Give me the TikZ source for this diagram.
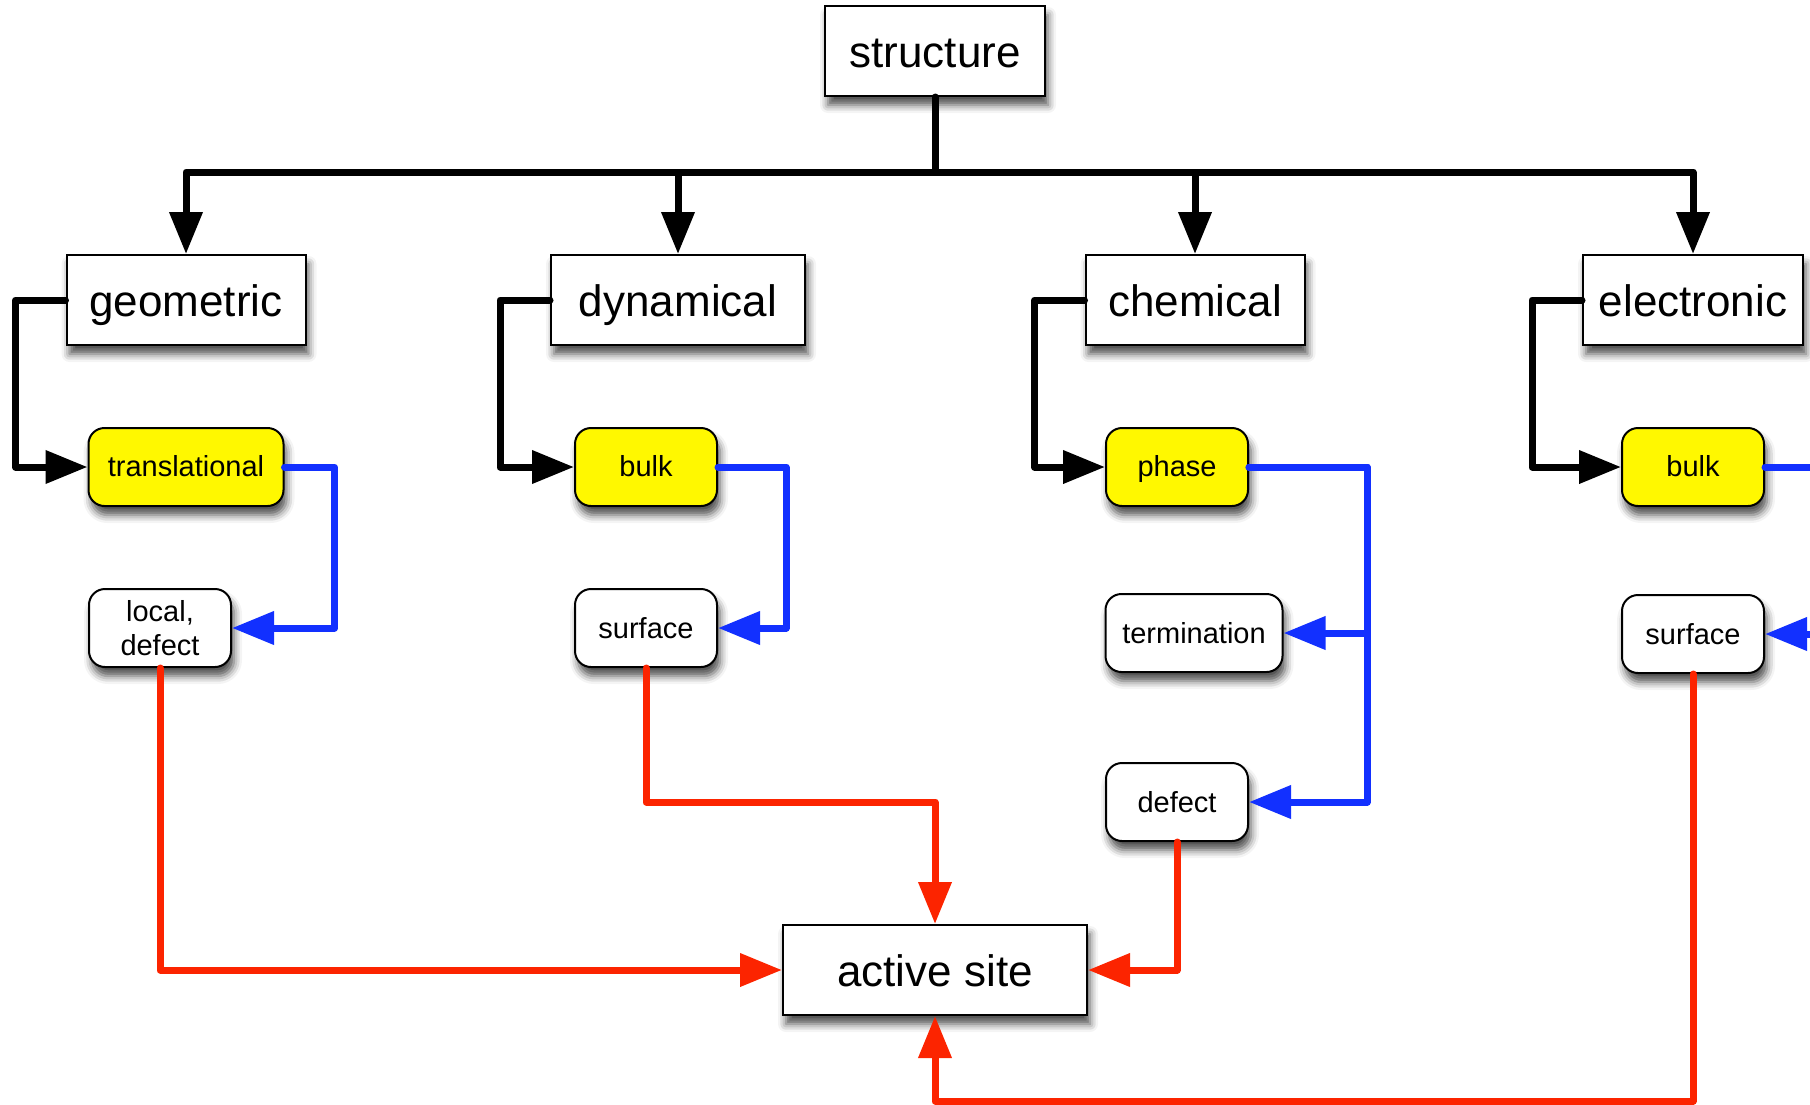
\documentclass[tikz,border=0pt]{standalone}
\usepackage{fontspec}
\setmainfont{Liberation Sans}
\usetikzlibrary{arrows.meta, shadows.blur}
\definecolor{boxyellow}{RGB}{255,248,0}
\definecolor{linkblue}{RGB}{18,48,255}
\definecolor{linkred}{RGB}{252,36,0}

\begin{document}
\begin{tikzpicture}[x=0.5pt, y=-0.5pt,
        shade/.style={blur shadow={shadow xshift=1.5pt, shadow yshift=-4.5pt, shadow blur radius=4pt, shadow opacity=70}},
        big/.style={draw, line width=1pt, fill=white, shade, font=\fontsize{22}{26}\selectfont, inner xsep=4pt, text height=19pt, text depth=2.5pt, minimum height=45pt},
        small/.style={draw, line width=1pt, fill=white, shade, rounded corners=8pt, font=\fontsize{14.5}{16.8}\selectfont, align=center, inner xsep=4pt, minimum width=71pt, minimum height=39pt},
        hot/.style={small, fill=boxyellow, text height=12pt, text depth=2.5pt},
        link/.style={line width=3.5pt, line join=round, line cap=round, -{Triangle[length=21pt, width=16pt]}},
        down/.style={link, black},
        side/.style={link, linkblue},
        tosite/.style={link, linkred}]
    \useasboundingbox (0,0) rectangle (1810,1104);

    % top level
    \node[big, minimum width=110pt] (structure) at (935,51) {structure};
    \node[big, minimum width=119.5pt] (geometric) at (186,300) {geometric};
    \node[big, minimum width=127pt] (dynamical) at (678,300) {dynamical};
    \node[big, minimum width=109.5pt] (chemical) at (1195,300) {chemical};
    \node[big, minimum width=110pt] (electronic) at (1693,300) {electronic};

    % second level
    \node[hot, minimum width=97.5pt] (translational) at (186,467) {translational};
    \node[hot] (bulkdyn) at (646,467) {bulk};
    \node[hot] (phase) at (1177,467) {phase};
    \node[hot] (bulkel) at (1693,467) {bulk};

    \node[small] (local) at (160,628) {local,\\defect};
    \node[small] (surfdyn) at (646,628) {surface};
    \node[small, minimum width=88.5pt] (termination) at (1194,633) {termination};
    \node[small] (defect) at (1177,802) {defect};
    \node[small] (surfel) at (1693,634) {surface};

    \node[big, minimum width=152pt] (active) at (935,970) {active site};

    % structure -> aspects
    \coordinate (bus) at (935,172);
    \draw[link, -] (structure.south) -- (bus);
    \foreach \n in {geometric, dynamical, chemical, electronic}
        \draw[down] (bus) -| (\n.north);

    % aspects -> yellow boxes
    \draw[down] (geometric.west) -- ++(-50,0) |- (translational.west);
    \draw[down] (dynamical.west) -- ++(-50,0) |- (bulkdyn.west);
    \draw[down] (chemical.west) -- ++(-50,0) |- (phase.west);
    \draw[down] (electronic.west) -- ++(-50,0) |- (bulkel.west);

    % blue links
    \draw[side] (translational.east) -- ++(50,0) |- (local.east);
    \draw[side] (bulkdyn.east) -- ++(68,0) |- (surfdyn.east);
    \draw[side] (phase.east) -- ++(118,0) |- (termination.east);
    \draw[side] (phase.east) -- ++(118,0) |- (defect.east);
    \draw[side] (bulkel.east) -- ++(70,0) |- (surfel.east);

    % red links to the active site
    \draw[tosite] (local.south) |- (active.west);
    \draw[tosite] (surfdyn.south) -- ++(0,134) -| (active.north);
    \draw[tosite] (defect.south) |- (active.east);
    \draw[tosite] (surfel.south) -- ++(0,427) -| (active.south);
\end{tikzpicture}
\end{document}
